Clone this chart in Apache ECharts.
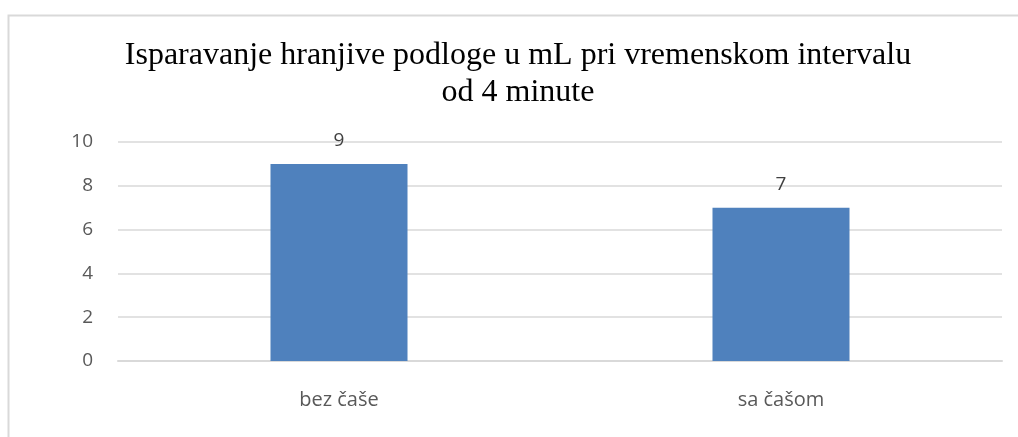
<!DOCTYPE html>
<html>
<head>
<meta charset="utf-8">
<script src="https://cdn.jsdelivr.net/npm/echarts@6/dist/echarts.min.js"></script>
<style>
  html, body { margin: 0; padding: 0; background: #fff; }
  #chart { width: 1018px; height: 437px; }
</style>
</head>
<body>
<div id="chart"></div>
<script>
const categories = ['bez čaše', 'sa čašom']
const values = [9, 7]
const yTicks = [0, 2, 4, 6, 8, 10]

const labelFont = '"Open Sans", "Noto Sans", sans-serif'

const myChart = echarts.init(document.getElementById('chart'))
const option = {
  animation: false,
  backgroundColor: '#fff',
  title: {
    text: 'Isparavanje hranjive podloge u mL pri vremenskom intervalu\nod 4 minute',
    left: 513,
    top: 32,
    textAlign: 'center',
    textStyle: {
      fontFamily: '"Liberation Serif", "Times New Roman", serif',
      fontSize: 32,
      fontWeight: 'normal',
      color: '#000',
      lineHeight: 37,
    },
  },
  graphic: [
    {
      type: 'rect',
      shape: { x: 8.5, y: 15.5, width: 1100, height: 500 },
      style: { fill: 'none', stroke: '#d9d9d9', lineWidth: 2 },
      silent: true,
    },
  ],
  grid: {
    left: 118,
    right: 16,
    top: 142,
    bottom: 76,
  },
  xAxis: {
    type: 'category',
    data: categories,
    axisLine: { show: true, lineStyle: { color: '#d9d9d9', width: 2 } },
    axisTick: { show: false },
    axisLabel: {
      margin: 29,
      color: '#595959',
      fontSize: 20,
      fontFamily: labelFont,
    },
  },
  yAxis: {
    type: 'value',
    min: yTicks[0],
    max: yTicks[yTicks.length - 1],
    interval: 2,
    axisLine: { show: false },
    axisTick: { show: false },
    axisLabel: {
      margin: 25,
      color: '#595959',
      fontSize: 19,
      fontFamily: labelFont,
    },
    splitLine: { lineStyle: { color: '#d9d9d9', width: 1.5 } },
  },
  series: [
    {
      type: 'bar',
      data: values,
      barWidth: '31%',
      itemStyle: { color: '#4f81bd' },
      label: {
        show: true,
        position: 'top',
        distance: 14,
        color: '#404040',
        fontSize: 19,
        fontFamily: labelFont,
      },
    },
  ],
}
myChart.setOption(option)
</script>
</body>
</html>
